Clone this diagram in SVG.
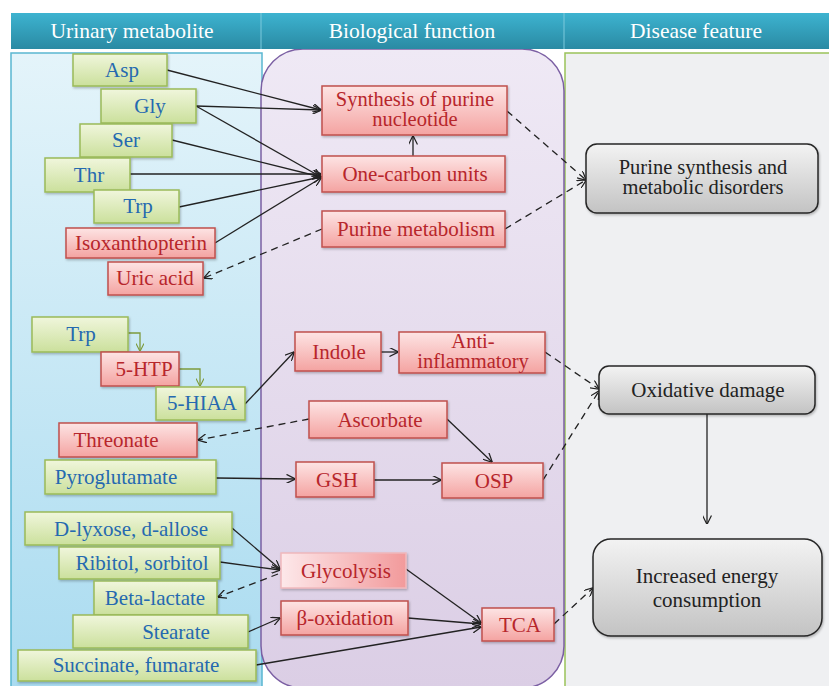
<svg xmlns="http://www.w3.org/2000/svg" width="829" height="686" viewBox="0 0 829 686" font-family="Liberation Serif, serif">
<defs>
<linearGradient id="gHead" x1="0" y1="0" x2="0" y2="1"><stop offset="0" stop-color="#3db3d0"/><stop offset="1" stop-color="#2a8aa3"/></linearGradient>
<linearGradient id="gLeft" x1="0" y1="0" x2="0" y2="1"><stop offset="0" stop-color="#e4f4fa"/><stop offset="1" stop-color="#a9dbf0"/></linearGradient>
<linearGradient id="gMid" x1="0" y1="0" x2="0" y2="1"><stop offset="0" stop-color="#efe9f5"/><stop offset="1" stop-color="#dbcee5"/></linearGradient>
<linearGradient id="gGreen" x1="0" y1="0" x2="0" y2="1"><stop offset="0" stop-color="#f0f6dc"/><stop offset="1" stop-color="#cbe09c"/></linearGradient>
<linearGradient id="gRed" x1="0" y1="0" x2="0" y2="1"><stop offset="0" stop-color="#fde4e4"/><stop offset="1" stop-color="#f4a3a1"/></linearGradient>
<linearGradient id="gRedH" x1="0" y1="0" x2="1" y2="0"><stop offset="0" stop-color="#fde8ea"/><stop offset="1" stop-color="#f29a9b"/></linearGradient>
<linearGradient id="gGray" x1="0" y1="0" x2="0" y2="1"><stop offset="0" stop-color="#f3f3f3"/><stop offset="1" stop-color="#c3c3c3"/></linearGradient>
<filter id="sh" x="-10%" y="-10%" width="130%" height="140%"><feDropShadow dx="1" dy="1.5" stdDeviation="1" flood-color="#000" flood-opacity="0.25"/></filter>
<marker id="ah" viewBox="0 0 10 10" refX="9.5" refY="5" markerWidth="9" markerHeight="9" markerUnits="userSpaceOnUse" orient="auto"><path d="M0,0 L10,5 L0,10" fill="none" stroke="#222" stroke-width="1.4"/></marker>
<marker id="ahg" viewBox="0 0 10 10" refX="9.5" refY="5" markerWidth="8" markerHeight="8" markerUnits="userSpaceOnUse" orient="auto"><path d="M0,0 L10,5 L0,10" fill="none" stroke="#7d9a3c" stroke-width="1.4"/></marker>
</defs>
<style>
.g rect{fill:url(#gGreen);stroke:#9bbb59;stroke-width:1.5;filter:url(#sh)}
.g text{fill:#2569b0}
.r rect{fill:url(#gRed);stroke:#c0504d;stroke-width:1.5;filter:url(#sh)}
.r text{fill:#b7262b}
.k rect{fill:url(#gGray);stroke:#262626;stroke-width:1.5;filter:url(#sh)}
.k text{fill:#222222}
.c line,.c path{stroke:#222;stroke-width:1.3;fill:none}
.c .d{stroke-dasharray:7,5}
.c .o{stroke:#7d9a3c}
</style>
<rect width="829" height="686" fill="#ffffff"/>
<g id="panels">
<rect x="11" y="53" width="251" height="640" fill="url(#gLeft)" stroke="#5ab7d1" stroke-width="1.5"/>
<rect x="565" y="53" width="270" height="640" fill="#eff0f2" stroke="#9bc25a" stroke-width="1.5"/>
<rect x="261" y="49" width="303" height="639" rx="42" ry="42" fill="url(#gMid)" stroke="#7b5fa3" stroke-width="1.5"/>
</g>
<g id="header" font-family="Liberation Serif, serif" font-size="21.5" text-anchor="middle" fill="#ffffff">
<rect x="11" y="13" width="818" height="36" fill="url(#gHead)"/>
<line x1="261" y1="13" x2="261" y2="49" stroke="#7cc9dc" stroke-width="1"/>
<line x1="564" y1="13" x2="564" y2="49" stroke="#7cc9dc" stroke-width="1"/>
<text x="132" y="38">Urinary metabolite</text>
<text x="412" y="38">Biological function</text>
<text x="696" y="38">Disease feature</text>
</g>
<g class="c" id="connectors">
<line x1="167" y1="70" x2="321" y2="110" marker-end="url(#ah)"/>
<line x1="196" y1="106" x2="321" y2="110" marker-end="url(#ah)"/>
<line x1="196" y1="106" x2="321" y2="177" marker-end="url(#ah)"/>
<line x1="172" y1="140" x2="321" y2="177" marker-end="url(#ah)"/>
<line x1="130" y1="174" x2="321" y2="174" marker-end="url(#ah)"/>
<line x1="179" y1="207" x2="321" y2="177" marker-end="url(#ah)"/>
<line x1="215" y1="243" x2="321" y2="178" marker-end="url(#ah)"/>
<line x1="413" y1="156" x2="413" y2="136" marker-end="url(#ah)" stroke-width="1.8"/>
<line x1="245" y1="404" x2="294" y2="352" marker-end="url(#ah)"/>
<line x1="381" y1="352" x2="398" y2="352" marker-end="url(#ah)"/>
<line x1="447" y1="419" x2="492" y2="462" marker-end="url(#ah)"/>
<line x1="216" y1="478" x2="295" y2="479" marker-end="url(#ah)"/>
<line x1="374" y1="480" x2="441" y2="480" marker-end="url(#ah)"/>
<line x1="707" y1="414" x2="707" y2="524" marker-end="url(#ah)"/>
<line x1="232" y1="528" x2="280" y2="569" marker-end="url(#ah)"/>
<line x1="220" y1="562" x2="280" y2="570" marker-end="url(#ah)"/>
<line x1="248" y1="632" x2="280" y2="618" marker-end="url(#ah)"/>
<line x1="406" y1="569" x2="481" y2="623" marker-end="url(#ah)"/>
<line x1="408" y1="618" x2="481" y2="624" marker-end="url(#ah)"/>
<line x1="256" y1="665" x2="481" y2="627" marker-end="url(#ah)"/>
<line class="d" x1="322" y1="229" x2="204" y2="278" marker-end="url(#ah)"/>
<line class="d" x1="507" y1="111" x2="586" y2="180" marker-end="url(#ah)"/>
<line class="d" x1="505" y1="229" x2="586" y2="180" marker-end="url(#ah)"/>
<line class="d" x1="309" y1="419" x2="198" y2="440" marker-end="url(#ah)"/>
<line class="d" x1="545" y1="352" x2="599" y2="389" marker-end="url(#ah)"/>
<line class="d" x1="543" y1="480" x2="599" y2="391" marker-end="url(#ah)"/>
<line class="d" x1="278" y1="574" x2="218" y2="597" marker-end="url(#ah)"/>
<line class="d" x1="554" y1="624" x2="593" y2="588" marker-end="url(#ah)"/>
<path class="o" d="M128,333 H140 V351" marker-end="url(#ahg)"/>
<path class="o" d="M179,369 H200 V386" marker-end="url(#ahg)"/>
</g>
<g id="nodes" font-family="Liberation Serif, serif" font-size="21" text-anchor="middle">
<g id="n-asp" class="g"><rect x="73" y="54" width="94" height="32"/><text x="122" y="77">Asp</text></g>
<g id="n-gly" class="g"><rect x="101" y="89" width="95" height="34"/><text x="150" y="113">Gly</text></g>
<g id="n-ser" class="g"><rect x="80" y="124" width="92" height="33"/><text x="126" y="147">Ser</text></g>
<g id="n-thr" class="g"><rect x="45" y="158" width="85" height="34"/><text x="89" y="182">Thr</text></g>
<g id="n-trp" class="g"><rect x="94" y="190" width="85" height="33"/><text x="138" y="213">Trp</text></g>
<g id="n-isox" class="r"><rect x="66" y="228" width="149" height="30"/><text x="141" y="250">Isoxanthopterin</text></g>
<g id="n-uric" class="r"><rect x="108" y="262" width="95" height="33"/><text x="155" y="285">Uric acid</text></g>
<g id="n-synth" class="r"><rect x="322" y="86" width="185" height="49"/><text x="415" y="106" font-size="20.5">Synthesis of purine</text><text x="415" y="126" font-size="20.5">nucleotide</text></g>
<g id="n-onec" class="r"><rect x="322" y="156" width="183" height="36"/><text x="415" y="181">One-carbon units</text></g>
<g id="n-purmet" class="r"><rect x="322" y="211" width="183" height="36"/><text x="416" y="236">Purine metabolism</text></g>
<g id="n-pursyn" class="k"><rect x="586" y="144" width="232" height="69" rx="11"/><text x="703" y="174" font-size="20.5">Purine synthesis and</text><text x="703" y="194" font-size="20.5">metabolic disorders</text></g>
<g id="n-trp2" class="g"><rect x="32" y="317" width="96" height="35"/><text x="81" y="341">Trp</text></g>
<g id="n-5htp" class="r"><rect x="101" y="352" width="78" height="34"/><text x="144" y="376">5-HTP</text></g>
<g id="n-5hiaa" class="g"><rect x="156" y="387" width="89" height="33"/><text x="202" y="410">5-HIAA</text></g>
<g id="n-threo" class="r"><rect x="59" y="423" width="138" height="34"/><text x="116" y="447">Threonate</text></g>
<g id="n-pyro" class="g"><rect x="45" y="460" width="171" height="34"/><text x="116" y="484">Pyroglutamate</text></g>
<g id="n-indole" class="r"><rect x="295" y="332" width="86" height="39"/><text x="339" y="359">Indole</text></g>
<g id="n-anti" class="r"><rect x="399" y="332" width="146" height="41"/><text x="473" y="348" font-size="20.5">Anti-</text><text x="473" y="368" font-size="20.5">inflammatory</text></g>
<g id="n-ascor" class="r"><rect x="309" y="401" width="138" height="37"/><text x="380" y="427">Ascorbate</text></g>
<g id="n-gsh" class="r"><rect x="296" y="462" width="78" height="35"/><text x="337" y="487">GSH</text></g>
<g id="n-osp" class="r"><rect x="442" y="463" width="101" height="35"/><text x="494" y="488">OSP</text></g>
<g id="n-oxid" class="k"><rect x="599" y="366" width="216" height="48" rx="10"/><text x="708" y="397">Oxidative damage</text></g>
<g id="n-lyx" class="g"><rect x="25" y="512" width="207" height="33"/><text x="131" y="536">D-lyxose, d-allose</text></g>
<g id="n-rib" class="g"><rect x="59" y="547" width="161" height="32"/><text x="142" y="570">Ribitol, sorbitol</text></g>
<g id="n-beta" class="g"><rect x="94" y="581" width="123" height="34"/><text x="155" y="605">Beta-lactate</text></g>
<g id="n-stear" class="g"><rect x="73" y="615" width="175" height="33"/><text x="176" y="639">Stearate</text></g>
<g id="n-succ" class="g"><rect x="18" y="650" width="238" height="31"/><text x="136" y="672">Succinate, fumarate</text></g>
<g id="n-glyco" class="r"><rect x="281" y="553" width="125" height="35" style="fill:url(#gRedH);stroke:#f0b8bc"/><text x="346" y="578">Glycolysis</text></g>
<g id="n-boxid" class="r"><rect x="281" y="601" width="127" height="34"/><text x="345" y="625">β-oxidation</text></g>
<g id="n-tca" class="r"><rect x="482" y="608" width="72" height="33"/><text x="520" y="632">TCA</text></g>
<g id="n-energy" class="k"><rect x="593" y="539" width="229" height="97" rx="18"/><text x="707" y="583">Increased energy</text><text x="707" y="607">consumption</text></g>
</g>
</svg>
